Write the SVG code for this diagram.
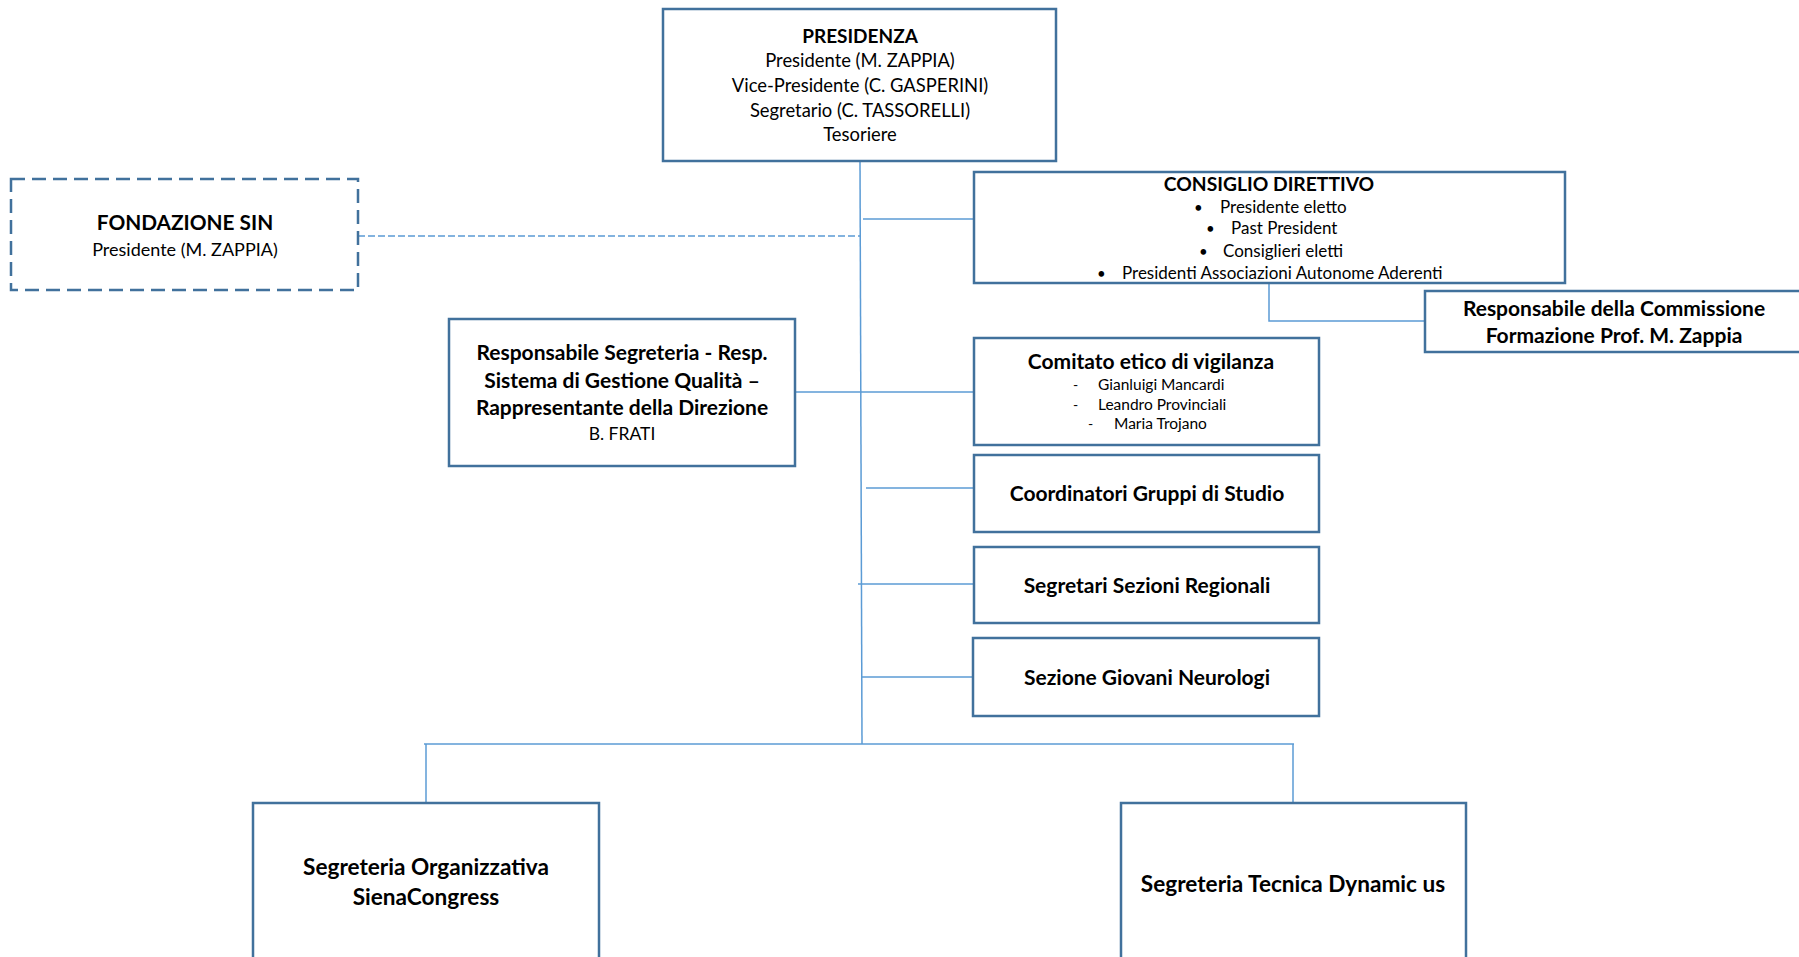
<svg xmlns="http://www.w3.org/2000/svg" width="1799" height="957" viewBox="0 0 1799 957">
<style>
.box{fill:#fff;stroke:#41719c;stroke-width:2.5}
.dbox{fill:#fff;stroke:#41719c;stroke-width:2.5;stroke-dasharray:14 7}
.ln{stroke:#5b9bd5;stroke-width:1.5;fill:none}
.dl{stroke:#5b9bd5;stroke-width:1.5;fill:none;stroke-dasharray:7 3}
text{font-family:Lato,"Liberation Sans",sans-serif;fill:#000}
.b{font-weight:bold}
.c{text-anchor:middle}
</style>
<rect width="1799" height="957" fill="#fff"/>
<g id="connectors">
<line class="ln" x1="860" y1="161" x2="862" y2="744"/>
<line class="dl" x1="358" y1="236" x2="860" y2="236"/>
<line class="ln" x1="863" y1="219" x2="974" y2="219"/>
<polyline class="ln" points="1269,283 1269,321 1425,321"/>
<line class="ln" x1="795" y1="392" x2="974" y2="392"/>
<line class="ln" x1="866" y1="488" x2="974" y2="488"/>
<line class="ln" x1="858" y1="584" x2="974" y2="584"/>
<line class="ln" x1="862" y1="677" x2="974" y2="677"/>
<line class="ln" x1="424" y1="744" x2="1294" y2="744"/>
<line class="ln" x1="426" y1="744" x2="426" y2="803"/>
<line class="ln" x1="1293" y1="744" x2="1293" y2="803"/>
</g>
<g id="presidenza">
<rect class="box" x="663" y="9" width="393" height="152"/>
<text class="c b" x="860" y="43" font-size="19">PRESIDENZA</text>
<text class="c" x="860" y="67" font-size="18.4">Presidente (M. ZAPPIA)</text>
<text class="c" x="860" y="92" font-size="18.4">Vice-Presidente (C. GASPERINI)</text>
<text class="c" x="860" y="117" font-size="18.4">Segretario (C. TASSORELLI)</text>
<text class="c" x="860" y="141" font-size="18.4">Tesoriere</text>
</g>
<g id="fondazione">
<rect class="dbox" x="11" y="179" width="347" height="111"/>
<text class="c b" x="185" y="230" font-size="20.8">FONDAZIONE SIN</text>
<text class="c" x="185" y="256" font-size="18">Presidente (M. ZAPPIA)</text>
</g>
<g id="consiglio">
<rect class="box" x="974" y="172" width="591" height="111"/>
<text class="c b" x="1269" y="191" font-size="19.3">CONSIGLIO DIRETTIVO</text>
<text x="1194" y="213" font-size="15">•</text><text x="1220" y="213" font-size="17">Presidente eletto</text>
<text x="1206" y="234" font-size="15">•</text><text x="1231" y="234" font-size="17">Past President</text>
<text x="1199" y="257" font-size="15">•</text><text x="1223" y="257" font-size="17">Consiglieri eletti</text>
<text x="1097" y="279" font-size="15">•</text><text x="1122" y="279" font-size="17">Presidenti Associazioni Autonome Aderenti</text>
</g>
<g id="commissione">
<rect class="box" x="1425" y="291" width="380" height="61"/>
<text class="c b" x="1614" y="316" font-size="21">Responsabile della Commissione</text>
<text class="c b" x="1614" y="343" font-size="21">Formazione Prof. M. Zappia</text>
</g>
<g id="resp-segreteria">
<rect class="box" x="449" y="319" width="346" height="147"/>
<text class="c b" x="622" y="360" font-size="21">Responsabile Segreteria - Resp.</text>
<text class="c b" x="622" y="388" font-size="21">Sistema di Gestione Qualità –</text>
<text class="c b" x="622" y="415" font-size="21">Rappresentante della Direzione</text>
<text class="c" x="622" y="440" font-size="17.5">B. FRATI</text>
</g>
<g id="comitato">
<rect class="box" x="974" y="338" width="345" height="107"/>
<text class="c b" x="1151" y="369" font-size="21">Comitato etico di vigilanza</text>
<text x="1073" y="390" font-size="14">-</text><text x="1098" y="390" font-size="15.5">Gianluigi Mancardi</text>
<text x="1073" y="410" font-size="14">-</text><text x="1098" y="410" font-size="15.5">Leandro Provinciali</text>
<text x="1088" y="429" font-size="14">-</text><text x="1114" y="429" font-size="15.5">Maria Trojano</text>
</g>
<g id="coordinatori">
<rect class="box" x="974" y="455" width="345" height="77"/>
<text class="c b" x="1147" y="501" font-size="21">Coordinatori Gruppi di Studio</text>
</g>
<g id="segretari">
<rect class="box" x="974" y="547" width="345" height="76"/>
<text class="c b" x="1147" y="593" font-size="21">Segretari Sezioni Regionali</text>
</g>
<g id="giovani">
<rect class="box" x="973" y="638" width="346" height="78"/>
<text class="c b" x="1147" y="685" font-size="21">Sezione Giovani Neurologi</text>
</g>
<g id="seg-organizzativa">
<rect class="box" x="253" y="803" width="346" height="170"/>
<text class="c b" x="426" y="875" font-size="22.6">Segreteria Organizzativa</text>
<text class="c b" x="426" y="905" font-size="22.6">SienaCongress</text>
</g>
<g id="seg-tecnica">
<rect class="box" x="1121" y="803" width="345" height="170"/>
<text class="c b" x="1293" y="892" font-size="22.6">Segreteria Tecnica Dynamic us</text>
</g>
</svg>
